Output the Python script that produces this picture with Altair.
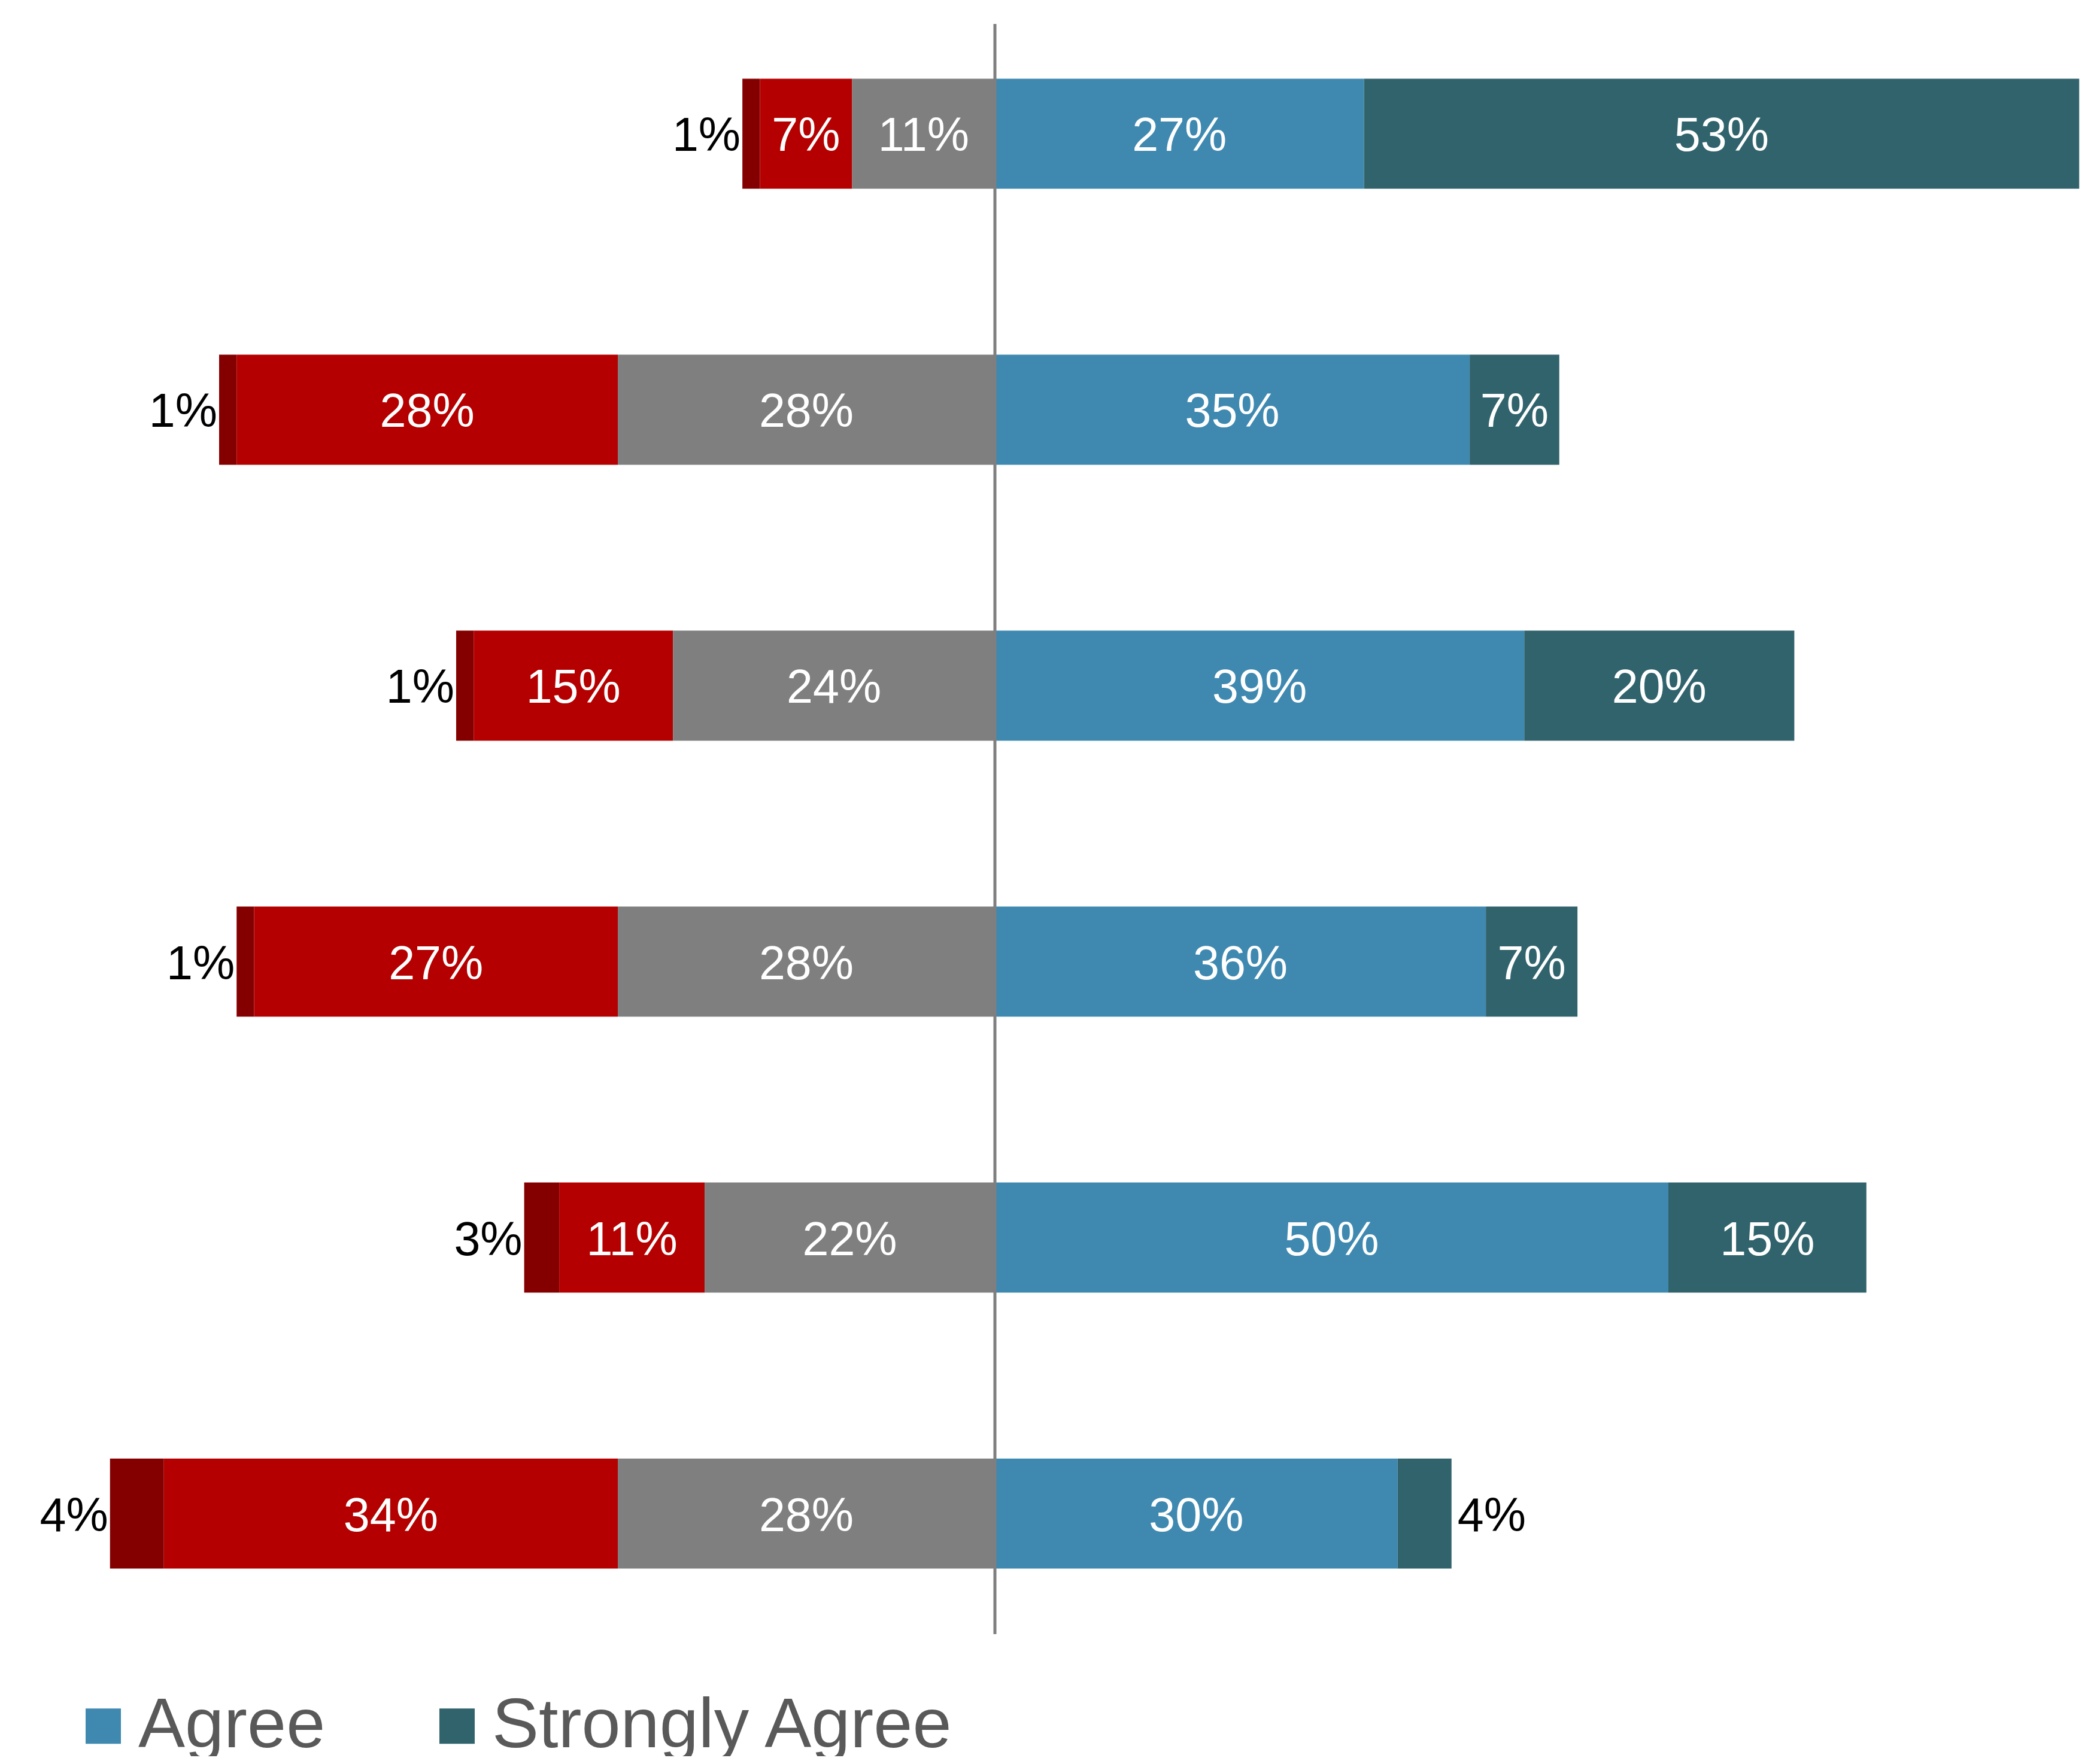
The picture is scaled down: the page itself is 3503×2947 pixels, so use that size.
import altair as alt
import pandas as pd

# ---- data ----
rows = ["Item 1", "Item 2", "Item 3", "Item 4", "Item 5", "Item 6"]
categories = ["Strongly Disagree", "Disagree", "Neutral", "Agree", "Strongly Agree"]
strongly_disagree = [1.3, 1.3, 1.3, 1.3, 2.6, 4.0]
disagree = [6.85, 28.3, 14.8, 27.0, 10.8, 33.7]
neutral = [10.6, 28.0, 23.9, 28.0, 21.55, 28.0]
agree = [27.4, 35.25, 39.3, 36.45, 50.0, 29.9]
strongly_agree = [53.1, 6.65, 20.05, 6.8, 14.7, 4.0]
colors = ["#840000", "#B40000", "#7F7F7F", "#3F89B0", "#31636D"]
legend_values = ["Agree", "Strongly Agree"]

# ---- build the diverging stack ----
recs = []
for i, r in enumerate(rows):
    sd, d, n, a, sa = strongly_disagree[i], disagree[i], neutral[i], agree[i], strongly_agree[i]
    segs = [
        ("Strongly Disagree", sd, -(n + d + sd), -(n + d)),
        ("Disagree", d, -(n + d), -n),
        ("Neutral", n, -n, 0.0),
        ("Agree", a, 0.0, a),
        ("Strongly Agree", sa, a, a + sa),
    ]
    for cat, v, lo, hi in segs:
        recs.append({
            "row": r, "cat": cat, "value": v, "lo": lo, "hi": hi,
            "mid": (lo + hi) / 2, "label": f"{round(v)}%",
            "inside": v >= 5,
        })
df = pd.DataFrame(recs)

PX_PER = 22.5
W = 3486
CENTER = 1654
xdom = [-CENTER / PX_PER, (W - CENTER) / PX_PER]
xscale = alt.Scale(domain=xdom, nice=False, zero=False)
yscale = alt.Scale(domain=rows, paddingInner=0.601, paddingOuter=0.2676)
FONT = "Liberation Sans"
FS = 79
DY = 5

base = alt.Chart(df)

bars = base.mark_bar().encode(
    y=alt.Y("row:N", sort=rows, scale=yscale, axis=None),
    x=alt.X("lo:Q", scale=xscale, axis=None),
    x2="hi:Q",
    color=alt.Color(
        "cat:N",
        scale=alt.Scale(domain=categories, range=colors),
        legend=alt.Legend(
            orient="none", legendX=106, legendY=2817, direction="horizontal",
            title=None, values=legend_values, symbolType="square",
            symbolSize=3481, symbolStrokeWidth=0, labelFontSize=117,
            labelFont=FONT, labelColor="#595959", labelOffset=0,
            columnPadding=161, padding=0, labelLimit=2000,
        ),
    ),
)

inside = base.transform_filter("datum.inside").mark_text(
    font=FONT, fontSize=FS, color="white", align="center", baseline="middle", dy=DY
).encode(
    y=alt.Y("row:N", sort=rows, scale=yscale, axis=None),
    x=alt.X("mid:Q", scale=xscale, axis=None),
    text="label:N",
)

out_left = base.transform_filter(
    "!datum.inside && datum.cat == 'Strongly Disagree'"
).mark_text(
    font=FONT, fontSize=FS, color="black", align="right", baseline="middle", dx=-3, dy=DY
).encode(
    y=alt.Y("row:N", sort=rows, scale=yscale, axis=None),
    x=alt.X("lo:Q", scale=xscale, axis=None),
    text="label:N",
)

out_right = base.transform_filter(
    "!datum.inside && datum.cat == 'Strongly Agree'"
).mark_text(
    font=FONT, fontSize=FS, color="black", align="left", baseline="middle", dx=10, dy=DY
).encode(
    y=alt.Y("row:N", sort=rows, scale=yscale, axis=None),
    x=alt.X("hi:Q", scale=xscale, axis=None),
    text="label:N",
)

rule = alt.Chart(pd.DataFrame({"zero": [0.0]})).mark_rule(
    color="#7F7F7F", strokeWidth=5
).encode(
    x=alt.X("zero:Q", scale=xscale, axis=None),
    y=alt.value(32),
    y2=alt.value(2722),
)

chart = alt.layer(bars, inside, out_left, out_right, rule).properties(
    width=W, height=2736,
    autosize=alt.AutoSizeParams(type="none"),
    padding={"left": 0, "top": 0, "right": 0, "bottom": 190},
    background="white",
).configure_view(stroke=None)

chart.save("out.html", embed_options={"renderer": "svg", "actions": False})
